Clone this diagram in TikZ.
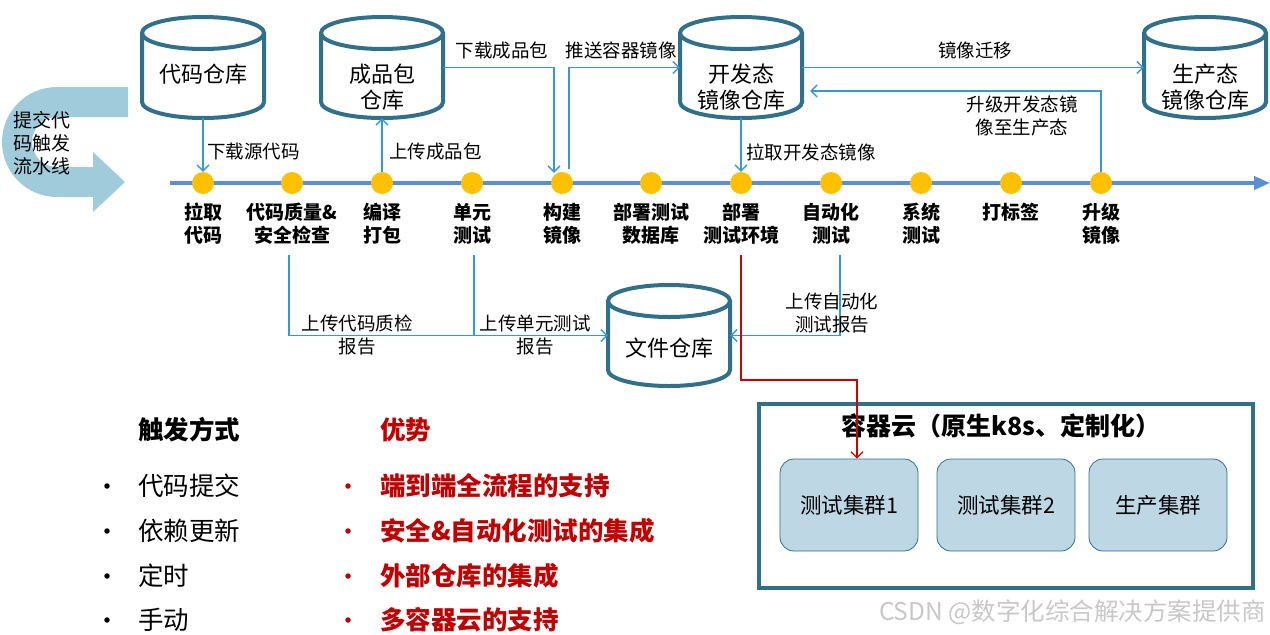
\documentclass[tikz,border=0pt]{standalone}
\usepackage{fontspec}
\setmainfont{Noto Sans CJK SC}
\usetikzlibrary{arrows.meta,calc}
\definecolor{cylcol}{RGB}{49,112,138}
\definecolor{flowcol}{RGB}{56,152,214}
\definecolor{tlcol}{RGB}{91,142,214}
\definecolor{dotcol}{RGB}{255,192,0}
\definecolor{arrowfill}{RGB}{160,203,219}
\definecolor{clfill}{RGB}{189,215,229}
\definecolor{advred}{RGB}{192,0,0}
\definecolor{redline}{RGB}{204,0,0}
\definecolor{wmgray}{RGB}{200,200,200}
\newcommand\mycyl[6]{%
  \draw[cylline] (#2,#3+16) ellipse [x radius=61pt, y radius=16pt];
  \draw[cylline] (#2-61,#3+16) -- (#2-61,#4-16) arc[start angle=180,end angle=360,x radius=61pt,y radius=16pt] -- (#2+61,#3+16);
  \node[inner sep=0pt, minimum width=122pt, minimum height={(#4-#3)*1pt}] (#1) at (#2,{(#3+#4)/2}) {};
  \node[cyltext] (#1t) at (#2,#5) {#6};
}
\begin{document}
\begin{tikzpicture}[x=1pt,y=-1pt,
  cylline/.style={draw=cylcol, line width=4pt},
  flow/.style={draw=flowcol, line width=1.3pt, -{Straight Barb[length=6pt,width=12pt]}},
  flowplain/.style={draw=flowcol, line width=1.3pt},
  lbl/.style={font=\fontsize{18.5}{22.5}\selectfont, align=center, inner sep=0pt},
  stage/.style={font=\bfseries\fontsize{19}{23}\selectfont, align=center, inner sep=0pt},
  dot/.style={circle, fill=dotcol, minimum size=22pt, inner sep=0pt},
  cyltext/.style={font=\fontsize{22}{26}\selectfont, align=center, inner sep=0pt},
  cluster/.style={rounded corners=14pt, fill=clfill, draw=cylcol, line width=0.8pt, minimum width=138pt, minimum height=92pt, font=\fontsize{21.5}{25}\selectfont},
  listhead/.style={font=\bfseries\fontsize{25.5}{28}\selectfont, anchor=west, inner sep=0pt},
  item/.style={font=\fontsize{25.5}{28}\selectfont, anchor=west, inner sep=0pt},
  advitem/.style={font=\bfseries\fontsize{25.5}{28}\selectfont, anchor=west, inner sep=0pt, text=advred},
  bul/.style={circle, inner sep=0pt, minimum size=5.5pt}
]
\useasboundingbox (0,0) rectangle (1270,635);
\fill[white] (0,0) rectangle (1270,635);

% left U-turn arrow
\fill[arrowfill] (128,87) -- (57,87) arc[start angle=90,end angle=270,radius=55pt] -- (93,197) -- (93,212) -- (125,182) -- (93,152) -- (93,167) -- (57,167) arc[start angle=270,end angle=90,radius=25pt] -- (128,117) -- cycle;
\node[font=\fontsize{19}{23}\selectfont, align=left, anchor=west, inner sep=0pt] (trig) at (13,143) {提交代\\码触发\\流水线};

% cylinders
\mycyl{cdb}{203}{17}{118}{74}{代码仓库}
\mycyl{pdb}{382}{17}{118}{87}{成品包\\仓库}
\mycyl{ddb}{741}{17}{118}{87}{开发态\\镜像仓库}
\mycyl{prdb}{1205}{17}{118}{87}{生产态\\镜像仓库}
\mycyl{fdb}{669}{285}{386}{348}{文件仓库}

% timeline
\coordinate (tl0) at (170,183);
\coordinate (tl1) at (1270,183);
\draw[tlcol, line width=4pt, -{Triangle[length=16pt,width=13pt]}] (tl0) -- (tl1);

\foreach \i/\x/\t in {1/203/{拉取\\代码},2/292/{代码质量\&\\安全检查},3/382/{编译\\打包},4/472/{单元\\测试},5/562/{构建\\镜像},6/651/{部署测试\\数据库},7/741/{部署\\测试环境},8/831/{自动化\\测试},9/921/{系统\\测试},10/1011/{打标签},11/1101/{升级\\镜像}}{
  \node[dot] (d\i) at (\x,183) {};
  \node[stage, anchor=north] (l\i) at (\x,203) {\t};
}

% connectors top
\draw[flow] (cdb.south) -- (cdb.south |- d1.north);
\node[lbl, anchor=west] (t1) at (207,151) {下载源代码};
\draw[flow] (d3.north) -- (d3.north |- pdb.south);
\node[lbl, anchor=west] (t2) at (389,151) {上传成品包};
\draw[flow] (pdb.east) -| ([xshift=-8pt,yshift=-1pt]d5.north);
\node[lbl] (t3) at (502,50) {下载成品包};
\draw[flow] ([xshift=7pt,yshift=3pt]d5.north) |- (ddb.west);
\node[lbl] (t4) at (621,50) {推送容器镜像};
\draw[flow] (ddb.east) -- (prdb.west);
\node[lbl] (t5) at (975,50) {镜像迁移};
\draw[flow] (d11.north) |- ([xshift=8pt,yshift=-23.5pt]ddb.east);
\node[lbl] (t6) at (1022,116) {升级开发态镜\\像至生产态};
\draw[flow] (ddb.south) -- (d7.north);
\node[lbl, anchor=west] (t7) at (746,152) {拉取开发态镜像};

% connectors bottom
\coordinate (s2) at (289,255);
\coordinate (s4) at (474,255);
\coordinate (s8) at (840,255);
\coordinate (s7) at (741,255);
\draw[flow] (s2) |- (fdb.west);
\draw[flowplain] (s4) -- (s4 |- fdb.west);
\draw[flow] (s8) |- (fdb.east);
\node[lbl] (t8) at (357,335) {上传代码质检\\报告};
\node[lbl] (t9) at (535,335) {上传单元测试\\报告};
\node[lbl] (t10) at (832,313) {上传自动化\\测试报告};

% container cloud
\node[draw=cylcol, line width=3.5pt, minimum width=494pt, minimum height=184pt, inner sep=0pt] (cloud) at (1006,496) {};
\node[font=\bfseries\fontsize{25}{29}\selectfont, inner sep=0pt] (cloudt) at (1001,426) {容器云（原生k8s、定制化）};
\node[cluster] (c1) at (849,505) {测试集群1};
\node[cluster] (c2) at (1006,505) {测试集群2};
\node[cluster] (c3) at (1158,505) {生产集群};
\coordinate (rj) at (857,380);
\draw[redline, line width=1.3pt, -{Straight Barb[length=6pt,width=12pt]}] (s7) |- (rj) -- (rj |- c1.north);

% lists
\node[listhead] (h1) at (138,430) {触发方式};
\node[listhead, text=advred] (h2) at (380,430) {优势};
\foreach \y/\a/\b [count=\k] in {486/代码提交/端到端全流程的支持, 531/依赖更新/安全\&自动化测试的集成, 576/定时/外部仓库的集成, 620/手动/多容器云的支持}{
  \node[bul, fill=black] (ba\k) at (107,\y) {};
  \node[item] (ia\k) at (138,\y) {\a};
  \node[bul, fill=advred] (bb\k) at (348,\y) {};
  \node[advitem] (ib\k) at (380,\y) {\b};
}

% watermark
\node[font=\fontsize{24.5}{28}\selectfont, text=wmgray, anchor=east, inner sep=0pt] (wm) at (1266,612) {CSDN @数字化综合解决方案提供商};
\end{tikzpicture}
\end{document}
